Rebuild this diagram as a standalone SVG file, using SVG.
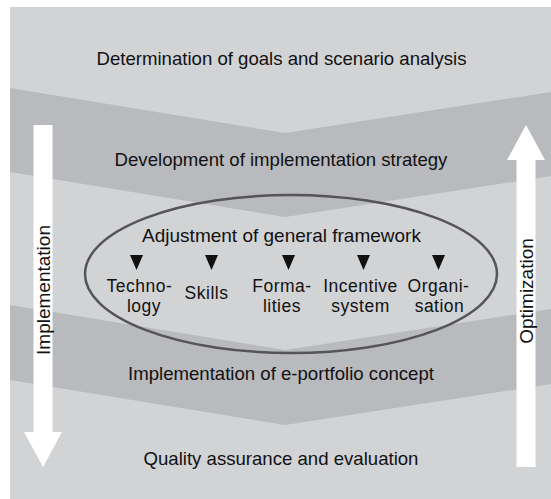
<svg xmlns="http://www.w3.org/2000/svg" width="551" height="499" viewBox="0 0 551 499">
<style>
.light{fill:#d2d3d5}
.dark{fill:#b9babd}
.t{font-family:"Liberation Sans",Arial,sans-serif;font-size:18.6px;fill:#111;text-anchor:middle}
.s{font-family:"Liberation Sans",Arial,sans-serif;font-size:19px;fill:#111;text-anchor:middle}
.w{font-family:"Liberation Sans",Arial,sans-serif;font-size:17.5px;letter-spacing:0.5px;fill:#111;text-anchor:middle}
.v{font-family:"Liberation Sans",Arial,sans-serif;font-size:19px;fill:#111;text-anchor:middle}
.tri{fill:#111}
.arrow{fill:#ffffff}
</style>
<defs>
<path id="tri" d="M-6.5,0 L6.5,0 L0,15 Z"/>
</defs>
<rect x="0" y="0" width="551" height="499" fill="#ffffff"/>
<g id="background">
<rect class="light" x="10" y="7" width="541" height="492"/>
<polygon class="dark" points="10,88 285,133 551,92 551,176 285,217 10,172"/>
<polygon class="dark" points="10,305 285,350 551,309 551,384 285,425 10,380"/>
</g>
<g id="step1"><text class="t" x="281.5" y="65">Determination of goals and scenario analysis</text></g>
<g id="step2"><text class="t" x="281" y="166">Development of implementation strategy</text></g>
<g id="step3">
<ellipse cx="291" cy="274" rx="206" ry="79" fill="none" stroke="#555558" stroke-width="2.5"/>
<text class="s" x="281.5" y="242">Adjustment of general framework</text>
</g>
<g id="technology">
<use href="#tri" class="tri" x="136.5" y="255"/>
<text class="w" x="139.5" y="291.5">Techno-</text>
<text class="w" x="144" y="311.5">logy</text>
</g>
<g id="skills">
<use href="#tri" class="tri" x="211.5" y="255"/>
<text class="w" x="206.5" y="299">Skills</text>
</g>
<g id="formalities">
<use href="#tri" class="tri" x="288.5" y="255"/>
<text class="w" x="282" y="291.5">Forma-</text>
<text class="w" x="282" y="311.5">lities</text>
</g>
<g id="incentive">
<use href="#tri" class="tri" x="363.5" y="255"/>
<text class="w" x="360.5" y="291.5">Incentive</text>
<text class="w" x="360.5" y="311.5">system</text>
</g>
<g id="organisation">
<use href="#tri" class="tri" x="438.5" y="255"/>
<text class="w" x="438.5" y="291.5">Organi-</text>
<text class="w" x="439.5" y="311.5">sation</text>
</g>
<g id="step4"><text class="t" x="281" y="380">Implementation of e-portfolio concept</text></g>
<g id="step5"><text class="t" x="281" y="465">Quality assurance and evaluation</text></g>
<g id="connectors">
<polygon class="arrow" points="33.5,125 52.5,125 52.5,432 62,432 43,467 24,432 33.5,432"/>
<polygon class="arrow" points="516.5,467 535.5,467 535.5,160 545,160 526,125 507,160 516.5,160"/>
<text class="v" transform="translate(50,290) rotate(-90)" x="0" y="0">Implementation</text>
<text class="v" transform="translate(533,291) rotate(-90)" x="0" y="0">Optimization</text>
</g>
</svg>
